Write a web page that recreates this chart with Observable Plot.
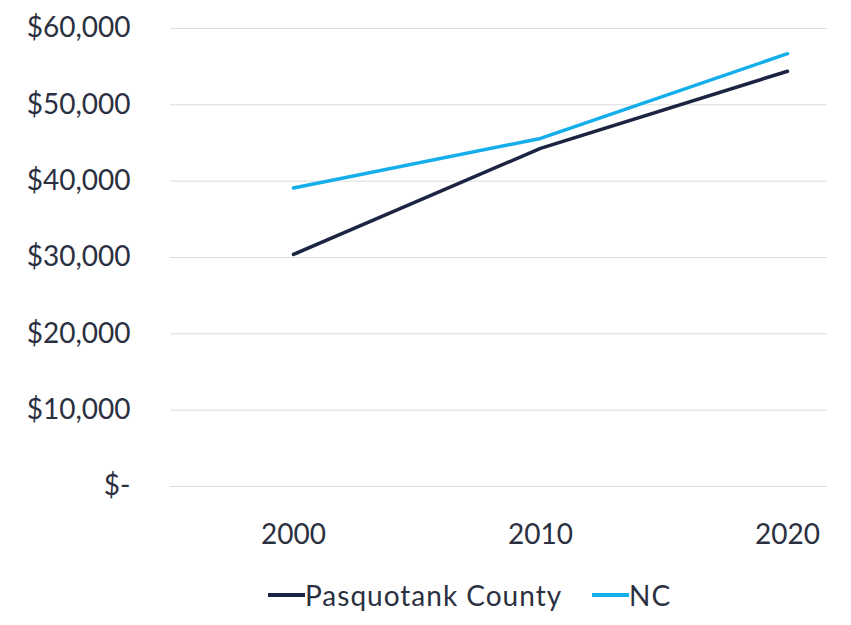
<!DOCTYPE html>
<html>
<head>
<meta charset="utf-8">
<script src="https://cdn.jsdelivr.net/npm/d3@7"></script>
<script src="https://cdn.jsdelivr.net/npm/@observablehq/plot@0.6"></script>
<style>
  html, body { margin: 0; padding: 0; background: #ffffff; }
  #chart { width: 851px; }
  .legend {
    display: flex;
    align-items: center;
    padding-left: 268px;
    margin-top: 18px;
    font-family: Lato, "Open Sans", sans-serif;
    font-size: 28px;
    line-height: 34px;
    letter-spacing: 1px;
    color: #2b3040;
  }
  .legend .item { display: flex; align-items: center; margin-right: 30px; }
  .legend .swatch { display: inline-block; width: 37px; height: 4px; }
</style>
</head>
<body>
<div id="chart"></div>
<script>
// Median household income by census year
const years = ["2000", "2010", "2020"];
const seriesNames = ["Pasquotank County", "NC"];
const seriesColors = ["#1b2441", "#14aeea"];
const pasquotankIncome = [30400, 44300, 54400];
const ncIncome = [39100, 45600, 56700];
const yTicks = [0, 10000, 20000, 30000, 40000, 50000, 60000];

const rows = [
  ...years.map((year, i) => ({year, series: seriesNames[0], value: pasquotankIncome[i]})),
  ...years.map((year, i) => ({year, series: seriesNames[1], value: ncIncome[i]}))
];

const money = d => d === 0 ? "$-" : "$" + d3.format(",")(d);

const chart = Plot.plot({
  width: 851,
  height: 560,
  marginTop: 28,
  marginBottom: 74,
  marginLeft: 170,
  marginRight: 24,
  style: {fontFamily: "Lato, 'Open Sans', sans-serif", fontSize: "28px", color: "#2b3040", background: "#ffffff"},
  x: {type: "point", domain: years, range: [293, 787], padding: 0, label: null},
  y: {domain: [0, 60000], label: null},
  color: {domain: seriesNames, range: seriesColors},
  marks: [
    Plot.ruleY(yTicks, {stroke: "#dcdcdc", strokeWidth: 1}),
    Plot.axisY({ticks: yTicks, tickFormat: money, tickSize: 0, tickPadding: 40, label: null}),
    Plot.axisX({tickSize: 0, tickPadding: 38, label: null}),
    Plot.line(rows, {x: "year", y: "value", z: "series", stroke: "series", strokeWidth: 3.5, curve: "linear"})
  ]
});

const container = document.getElementById("chart");
container.appendChild(chart);

// Legend below the chart
const legend = document.createElement("div");
legend.className = "legend";
seriesNames.forEach((name, i) => {
  const item = document.createElement("div");
  item.className = "item";
  const sw = document.createElement("span");
  sw.className = "swatch";
  sw.style.background = seriesColors[i];
  const label = document.createElement("span");
  label.textContent = name;
  item.appendChild(sw);
  item.appendChild(label);
  legend.appendChild(item);
});
container.appendChild(legend);
</script>
</body>
</html>
